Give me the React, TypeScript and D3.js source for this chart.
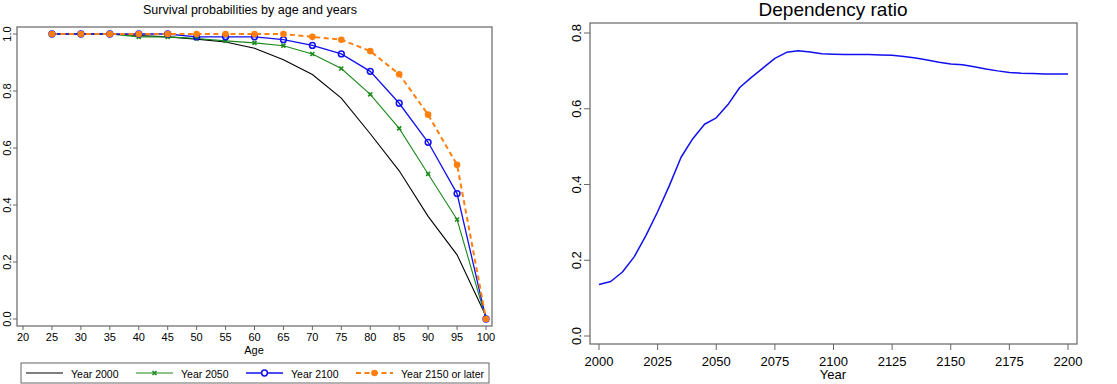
import React from "react";
import * as d3 from "d3";

// left panel: survival probabilities by age
const ages = [25, 30, 35, 40, 45, 50, 55, 60, 65, 70, 75, 80, 85, 90, 95, 100];
const surv2000 = [1, 1, 1, 0.995, 0.99, 0.982, 0.972, 0.95, 0.91, 0.858, 0.775, 0.65, 0.52, 0.36, 0.225, 0.01];
const surv2050 = [1, 1, 1, 0.99, 0.99, 0.984, 0.976, 0.969, 0.959, 0.93, 0.879, 0.788, 0.669, 0.509, 0.349, 0];
const surv2100 = [1, 1, 1, 1, 1, 0.99, 0.99, 0.99, 0.98, 0.96, 0.93, 0.869, 0.757, 0.62, 0.44, 0];
const surv2150 = [1, 1, 1, 1, 1, 1, 1, 1, 1, 0.99, 0.98, 0.94, 0.859, 0.717, 0.541, 0];
const ageTicks = [20, 25, 30, 35, 40, 45, 50, 55, 60, 65, 70, 75, 80, 85, 90, 95, 100];
const survTicks = [0, 0.2, 0.4, 0.6, 0.8, 1.0];

// right panel: dependency ratio
const years = [2000, 2005, 2010, 2015, 2020, 2025, 2030, 2035, 2040, 2045, 2050, 2055, 2060, 2065, 2070, 2075, 2080, 2085, 2090, 2095, 2100,
  2105, 2110, 2115, 2120, 2125, 2130, 2135, 2140, 2145, 2150, 2155, 2160, 2165, 2170, 2175, 2180, 2185, 2190, 2195, 2200];
const depRatio = [0.136, 0.144, 0.169, 0.209, 0.265, 0.328, 0.397, 0.472, 0.521, 0.559, 0.576, 0.611, 0.656, 0.683, 0.708, 0.733, 0.749, 0.753, 0.75, 0.745, 0.744,
  0.743, 0.743, 0.743, 0.742, 0.741, 0.738, 0.734, 0.729, 0.723, 0.718, 0.716, 0.711, 0.705, 0.7, 0.696, 0.694, 0.693, 0.692, 0.692, 0.692];
const yearTicks = [2000, 2025, 2050, 2075, 2100, 2125, 2150, 2175, 2200];
const depTicks = [0, 0.2, 0.4, 0.6, 0.8];

const FONT = "'Liberation Sans', Arial, Helvetica, sans-serif";
const FRAME = "#666";

function xMark(cx: number, cy: number, s: number, color: string, key: string) {
  return (
    <path key={key} d={`M${cx - s},${cy - s}L${cx + s},${cy + s}M${cx - s},${cy + s}L${cx + s},${cy - s}`}
      stroke={color} strokeWidth={1.6} fill="none" />
  );
}

function SurvivalPanel() {
  const x = d3.scaleLinear().domain([20, 100]).range([23, 486]);
  const y = d3.scaleLinear().domain([0, 1]).range([319, 34]);
  const line = d3.line<number>().x((_, i) => x(ages[i])).y((d) => y(d));
  const series = [
    { name: "Year 2000", data: surv2000, color: "#000", width: 1.1, dash: undefined as string | undefined, marker: "none" },
    { name: "Year 2050", data: surv2050, color: "#1a8a1a", width: 1.1, dash: undefined, marker: "x" },
    { name: "Year 2100", data: surv2100, color: "#1010f0", width: 1.3, dash: undefined, marker: "o" },
    { name: "Year 2150 or later", data: surv2150, color: "#ff7f0e", width: 2, dash: "5,3.5", marker: "dot" },
  ];
  const legendX = [26, 136, 246, 356];
  return (
    <g>
      <text x={250} y={14} textAnchor="middle" fontSize={12.5}>Survival probabilities by age and years</text>
      <rect x={17} y={27} width={475} height={299} fill="none" stroke={FRAME} strokeWidth={1.2} />
      {survTicks.map((t) => (
        <g key={"yt" + t}>
          <line x1={13} x2={17} y1={y(t)} y2={y(t)} stroke={FRAME} />
          <text transform={`translate(10.5,${y(t)}) rotate(-90)`} textAnchor="middle" fontSize={11}>{t.toFixed(1)}</text>
        </g>
      ))}
      {ageTicks.map((t) => (
        <g key={"xt" + t}>
          <line x1={x(t)} x2={x(t)} y1={326} y2={330} stroke={FRAME} />
          <text x={x(t)} y={341} textAnchor="middle" fontSize={11}>{t}</text>
        </g>
      ))}
      <text x={254} y={354} textAnchor="middle" fontSize={11}>Age</text>
      {series.map((s) => (
        <path key={s.name} d={line(s.data) || ""} fill="none" stroke={s.color} strokeWidth={s.width} strokeDasharray={s.dash} />
      ))}
      {series.map((s) =>
        s.data.map((v, i) => {
          const cx = x(ages[i]), cy = y(v);
          if (s.marker === "x") return xMark(cx, cy, 2, s.color, s.name + i);
          if (s.marker === "o") return <circle key={s.name + i} cx={cx} cy={cy} r={2.9} fill="none" stroke={s.color} strokeWidth={1.5} />;
          if (s.marker === "dot") return <circle key={s.name + i} cx={cx} cy={cy} r={3.3} fill={s.color} />;
          return null;
        })
      )}
      <rect x={21} y={363} width={468} height={20} fill="#fff" stroke={FRAME} strokeWidth={1} />
      {series.map((s, i) => {
        const lx = legendX[i];
        return (
          <g key={"lg" + s.name}>
            <line x1={lx} x2={lx + 37} y1={373} y2={373} stroke={s.color} strokeWidth={s.width} strokeDasharray={s.dash} />
            {s.marker === "x" && xMark(lx + 18.5, 373, 2, s.color, "lm" + i)}
            {s.marker === "o" && <circle cx={lx + 18.5} cy={373} r={2.9} fill="#fff" stroke={s.color} strokeWidth={1.5} />}
            {s.marker === "dot" && <circle cx={lx + 18.5} cy={373} r={3.3} fill={s.color} />}
            <text x={lx + 45} y={377.5} fontSize={10.5}>{s.name}</text>
          </g>
        );
      })}
    </g>
  );
}

function DependencyPanel() {
  const x = d3.scaleLinear().domain([2000, 2200]).range([599, 1068]);
  const y = d3.scaleLinear().domain([0, 0.8]).range([336, 33]);
  const line = d3.line<number>().x((_, i) => x(years[i])).y((d) => y(d));
  return (
    <g>
      <text x={833} y={15.5} textAnchor="middle" fontSize={19}>Dependency ratio</text>
      <rect x={590} y={23} width={487} height={321} fill="none" stroke={FRAME} strokeWidth={1.2} />
      {depTicks.map((t) => (
        <g key={"yt" + t}>
          <line x1={584} x2={590} y1={y(t)} y2={y(t)} stroke={FRAME} />
          <text transform={`translate(581,${y(t)}) rotate(-90)`} textAnchor="middle" fontSize={13}>{t.toFixed(1)}</text>
        </g>
      ))}
      {yearTicks.map((t) => (
        <g key={"xt" + t}>
          <line x1={x(t)} x2={x(t)} y1={344} y2={350} stroke={FRAME} />
          <text x={x(t)} y={366} textAnchor="middle" fontSize={13}>{t}</text>
        </g>
      ))}
      <text x={833} y={379} textAnchor="middle" fontSize={13}>Year</text>
      <path d={line(depRatio) || ""} fill="none" stroke="#1010f0" strokeWidth={1.5} strokeLinejoin="round" />
    </g>
  );
}

export default function App() {
  return (
    <svg width={1117} height={384} style={{ position: "absolute", left: 0, top: 0, background: "#fff" }} fontFamily={FONT}>
      <SurvivalPanel />
      <DependencyPanel />
    </svg>
  );
}
